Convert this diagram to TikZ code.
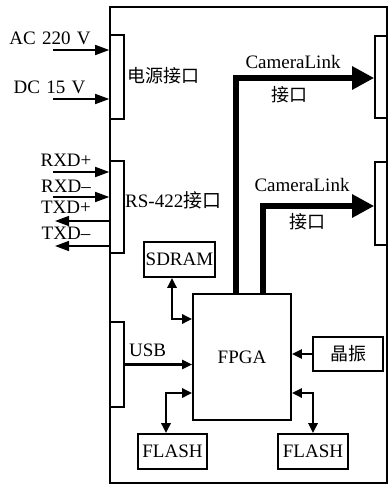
\documentclass[tikz,border=0pt]{standalone}
\usepackage{fontspec}
\setmainfont{Liberation Serif}
\newfontfamily\cjk{Noto Sans CJK SC}
\usetikzlibrary{arrows.meta}
\begin{document}
\begin{tikzpicture}[x=1pt,y=-1pt,
  box/.style={draw,line width=1.6pt,inner sep=0pt,minimum width=#1},
  lbl/.style={inner sep=0pt,font=\fontsize{19}{21}\selectfont},
  clbl/.style={inner sep=0pt,font=\fontsize{18}{20}\selectfont\cjk},
  thin/.style={line width=1.5pt,-{Triangle[length=14pt,width=10pt]}},
  dbl/.style={line width=2.5pt,{Triangle[length=10pt,width=9pt]}-{Triangle[length=10pt,width=9pt]}},
  one/.style={line width=2.2pt,-{Triangle[length=10pt,width=9pt]}},
  thick/.style={line width=5.5pt,-{Triangle[length=22pt,width=22pt]}}]
\useasboundingbox (0,0) rectangle (388,494);
\fill[white] (0,0) rectangle (388,494);
% outer frame
\node[draw,line width=2.6pt,inner sep=0pt,minimum width=277pt,minimum height=476pt] (frame) at (248.5,245) {};
% interface boxes
\node[box=14pt,minimum height=84pt] (pw) at (117,77) {};
\node[box=14pt,minimum height=92pt] (rs) at (117,207) {};
\node[box=14pt,minimum height=85pt] (usb) at (117,364.5) {};
\node[box=12pt,minimum height=82pt] (cla) at (381,77) {};
\node[box=12pt,minimum height=83pt] (clb) at (381,203.5) {};
% inner blocks
\node[box=98pt,minimum height=126pt,lbl] (fpga) at (242,357) {FPGA};
\node[box=71pt,minimum height=35pt,lbl] (sdram) at (179.5,259.5) {SDRAM};
\node[box=69pt,minimum height=35pt,lbl] (flasha) at (172.5,451.5) {FLASH};
\node[box=70pt,minimum height=35pt,lbl] (flashb) at (313,451.5) {FLASH};
\node[box=70pt,minimum height=34pt,clbl] (xtal) at (348,354) {晶振};
% texts
\node[lbl] (tac) at (50,38) {AC\,\,220\,\,V};
\node[lbl] (tdc) at (49.5,87) {DC\,\,15\,\,V};
\node[lbl] (trxp) at (66,160) {RXD+};
\node[lbl] (trxm) at (66,186) {RXD–};
\node[lbl] (ttxp) at (66,207) {TXD+};
\node[lbl] (ttxm) at (66,233) {TXD–};
\node[clbl,anchor=west] (tpw) at (127,76) {电源接口};
\node[lbl,anchor=west] (trs) at (125,200) {RS-422{\cjk 接口}};
\node[lbl,anchor=west] (tusb) at (129,350) {USB};
\node[lbl] (tcla) at (293,62) {CameraLink};
\node[clbl] (tclai) at (289,95) {接口};
\node[lbl] (tclb) at (302,185) {CameraLink};
\node[clbl] (tclbi) at (307,222) {接口};
% free ends
\coordinate (ac) at (53,50);
\coordinate (dc) at (53,99);
\coordinate (rxp) at (53,172);
\coordinate (rxm) at (53,197);
\coordinate (txp) at (55,221);
\coordinate (txm) at (55,246);
% connectors
\draw[thin] (ac) -- (ac -| pw.west);
\draw[thin] (dc) -- (dc -| pw.west);
\draw[thin] (rxp) -- (rxp -| rs.west);
\draw[thin] (rxm) -- (rxm -| rs.west);
\draw[thin] (txp -| rs.west) -- (txp);
\draw[thin] (txm -| rs.west) -- (txm);
\draw[one] (usb.east) -- (usb.east -| fpga.west);
\draw[one] (xtal.west) -- (xtal.west -| fpga.east);
\draw[dbl] ([xshift=-7.5pt]sdram.south) |- ([yshift=38pt]fpga.west);
\draw[dbl] ([xshift=-6.5pt]flasha.north) |- ([yshift=-36pt]fpga.west);
\draw[dbl] (flashb.north) |- ([yshift=-36pt]fpga.east);
\draw[thick] ([xshift=-6pt]fpga.north) |- ([yshift=-1pt]cla.west);
\draw[thick] ([xshift=21pt]fpga.north) |- ([yshift=-2.5pt]clb.west);
\end{tikzpicture}
\end{document}
